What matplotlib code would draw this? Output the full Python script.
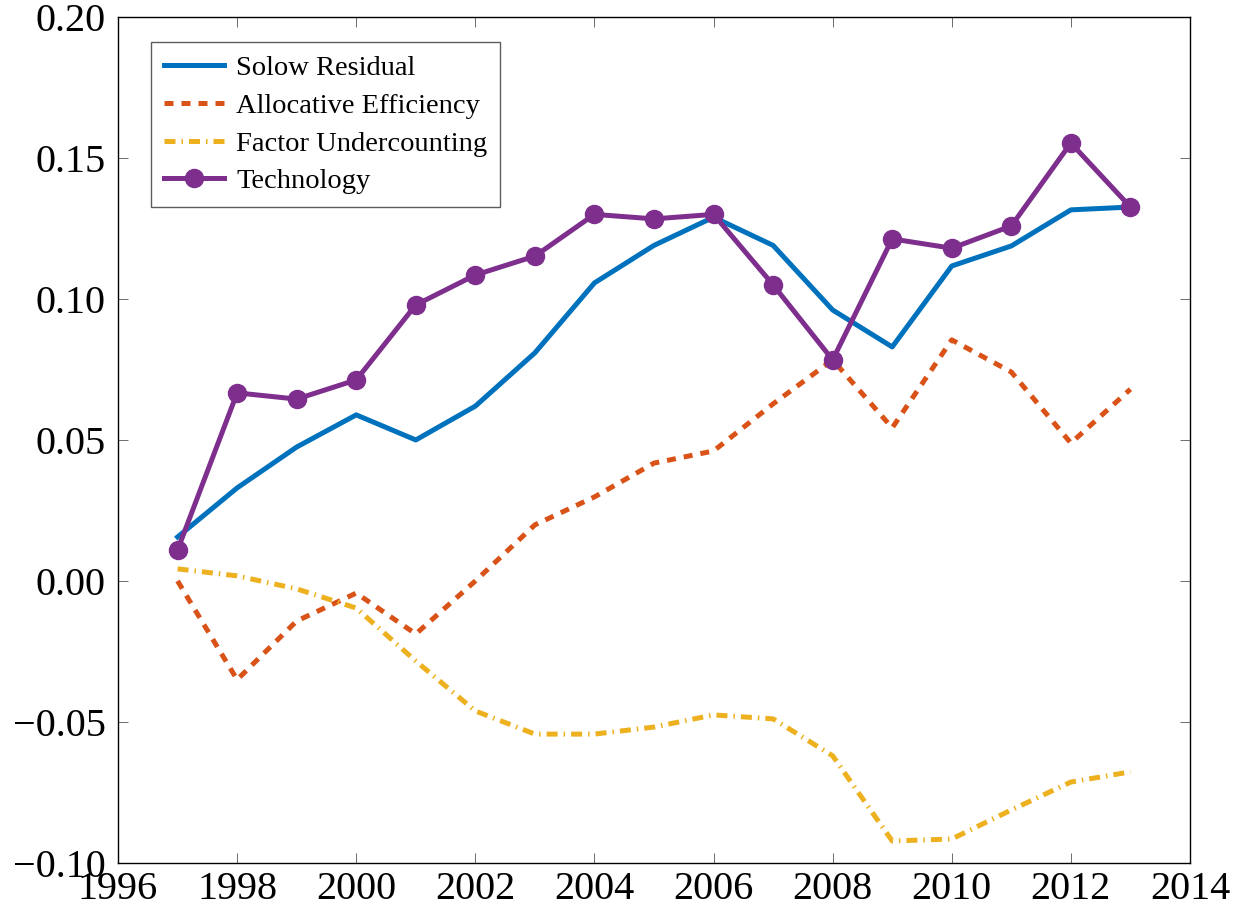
import numpy as np
import matplotlib.pyplot as plt

years = np.arange(1997, 2014)

solow = [0.0156, 0.033, 0.0475, 0.0589, 0.050, 0.062, 0.0809, 0.1057, 0.119, 0.129,
         0.119, 0.0961, 0.083, 0.1117, 0.1188, 0.1316, 0.1326]
allocative = [0.0, -0.035, -0.0142, -0.0043, -0.0188, 0.0, 0.0199, 0.0298, 0.0418, 0.0461,
              0.0628, 0.0784, 0.0543, 0.0855, 0.0741, 0.0489, 0.068]
factor = [0.0043, 0.0018, -0.0028, -0.0096, -0.0284, -0.0461, -0.0543, -0.0543, -0.0518, -0.0475,
          -0.0489, -0.062, -0.0922, -0.0915, -0.0812, -0.0713, -0.0677]
technology = [0.011, 0.0667, 0.0645, 0.0713, 0.0979, 0.1085, 0.1152, 0.130, 0.1284, 0.130,
              0.105, 0.0784, 0.1213, 0.118, 0.1259, 0.1553, 0.1326]

plt.rcParams["font.family"] = ["Liberation Serif", "DejaVu Serif"]

fig = plt.figure(figsize=(12.45, 9.13), dpi=100)
ax = fig.add_axes([0.0948, 0.0548, 0.8610, 0.9266])

lw = 3.6
ax.plot(years, solow, color="#0072BD", lw=lw, label="Solow Residual")
ax.plot(years, allocative, color="#D95319", lw=lw, linestyle=(0, (1.8, 1.6)),
        label="Allocative Efficiency")
ax.plot(years, factor, color="#EDB120", lw=lw, linestyle=(0, (2.2, 1.2, 0.3, 1.2)),
        label="Factor Undercounting")
ax.plot(years, technology, color="#7E2F8E", lw=lw, marker="o", ms=13,
        label="Technology")

ax.set_xlim(1996, 2014)
ax.set_ylim(-0.10, 0.20)
ax.set_xticks(np.arange(1996, 2015, 2))
yt = np.arange(-0.10, 0.201, 0.05)
ax.set_yticks(yt)
ax.set_yticklabels([f"{v:.2f}".replace("-", "\u2212") for v in yt])
ax.tick_params(direction="in", top=True, right=True, labelsize=29, length=7,
               width=0.6, color="#555555")
ax.tick_params(axis="x", pad=6)
ax.tick_params(axis="y", pad=9)
for s in ax.spines.values():
    s.set_linewidth(1.0)

leg = ax.legend(loc="upper left", bbox_to_anchor=(0.0308, 0.9704), fontsize=20.5,
                frameon=True, fancybox=False, edgecolor="#333333", handlelength=2.1,
                borderpad=0.45, labelspacing=0.42, handletextpad=0.45, borderaxespad=0)
leg.get_frame().set_linewidth(1.0)

fig.savefig("out.png", dpi=100)
